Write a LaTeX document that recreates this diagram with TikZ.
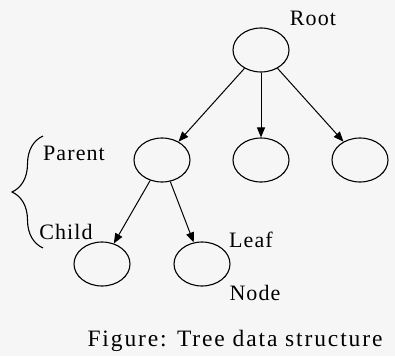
\documentclass[tikz,border=0pt]{standalone}
\usepackage{fontspec}
\setmainfont{Liberation Serif}
\usetikzlibrary{shapes.geometric,arrows.meta,decorations.pathreplacing}
\definecolor{paper}{RGB}{246,246,246}

\tikzset{
    treenode/.style={draw, ellipse, line width=1.1pt, minimum width=56pt, minimum height=44pt, inner sep=0pt},
    tag/.style={font=\fontsize{22}{24}\selectfont\addfontfeature{LetterSpace=5}, inner sep=0pt},
    edge/.style={line width=1pt, -{Triangle[length=10pt,width=8pt]}}
}

\begin{document}
\begin{tikzpicture}[x=1pt,y=-1pt]
            \fill[paper] (0,0) rectangle (395,356);
            \useasboundingbox (0,0) rectangle (395,356);

            % Root
            \node[treenode] (r) at (261,50) {};
            \node[tag] (rl) at (313,18) {Root};

            % Second level
            \node[treenode] (a) at (162,160) {};
            \node[treenode] (b) at (261,160) {};
            \node[treenode] (c) at (360,160) {};

            % Third level
            \node[treenode] (d) at (102,264) {};
            \node[treenode] (e) at (202,264) {};

            % Labels
            \node[tag] (pl) at (74,153) {Parent};
            \node[tag] (cl) at (66,232) {Child};
            \node[tag] (ll) at (251,240) {Leaf};
            \node[tag] (nl) at (255,293) {Node};
            \node[tag, font=\fontsize{23.5}{25}\selectfont\addfontfeature{LetterSpace=8}] (fig) at (235,341) {Figure: Tree data structure};

            % Brace
            \coordinate (bb) at (43,248);
            \coordinate (bt) at (43,136);
            \draw[line width=1.1pt, decorate, decoration={brace, amplitude=31pt, aspect=0.5}] (bb) -- (bt);

            % Edges
            \draw[edge] (r) -- (a);
            \draw[edge] (r) -- (b);
            \draw[edge] (r) -- (c);
            \draw[edge] (a) -- (d);
            \draw[edge] (a) -- (e);

        \end{tikzpicture}
\end{document}
